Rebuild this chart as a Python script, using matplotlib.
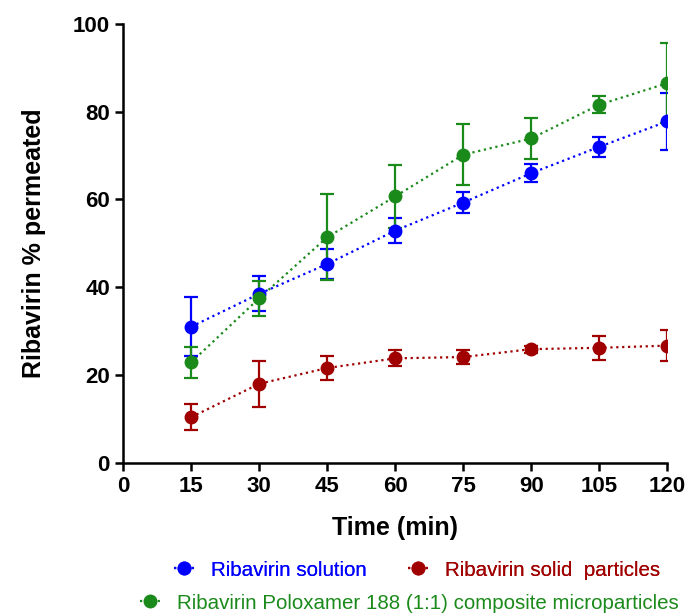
import numpy as np
import matplotlib.pyplot as plt
from matplotlib.lines import Line2D

plt.rcParams['font.family'] = ['Liberation Sans', 'DejaVu Sans']

time = [15, 30, 45, 60, 75, 90, 105, 120]

solution = [31.0, 38.5, 45.3, 52.9, 59.3, 66.0, 72.0, 77.8]
solution_err = [6.7, 4.0, 3.4, 2.9, 2.4, 2.1, 2.3, 6.5]

solid = [10.4, 18.0, 21.6, 23.8, 24.1, 25.9, 26.2, 26.7]
solid_err = [3.0, 5.3, 2.8, 1.8, 1.5, 0.8, 2.8, 3.6]

composite = [22.9, 37.5, 51.4, 60.7, 70.2, 73.9, 81.6, 86.5]
composite_err = [3.6, 4.0, 9.8, 7.2, 7.0, 4.7, 2.0, 9.1]

labels = ["Ribavirin solution", "Ribavirin solid  particles",
          "Ribavirin Poloxamer 188 (1:1) composite microparticles"]
colors = ["#0000ff", "#a00000", "#1a8a1a"]

fig = plt.figure(figsize=(6.88, 6.13), dpi=100)
ax = fig.add_axes([0.179, 0.245, 0.791, 0.716])

series = [(solution, solution_err), (solid, solid_err), (composite, composite_err)]
for (y, e), c in zip(series, colors):
    ax.errorbar(time, y, yerr=e, color=c, ecolor=c, fmt='o', ms=9,
                capsize=5, capthick=1.6, elinewidth=1.6, zorder=3)
    ax.plot(time, y, ':', color=c, lw=1.6, zorder=2)

ax.set_xlim(0, 120)
ax.set_ylim(0, 100)
ax.set_xticks(np.arange(0, 121, 15))
ax.set_yticks(np.arange(0, 101, 20))
for s in ['top', 'right']:
    ax.spines[s].set_visible(False)
for s in ['left', 'bottom']:
    ax.spines[s].set_linewidth(1.8)
ax.tick_params(direction='out', length=6, width=1.8, labelsize=16)
for t in ax.get_xticklabels() + ax.get_yticklabels():
    t.set_fontweight('bold')
ax.set_xlabel("Time (min)", fontsize=18, fontweight='bold', labelpad=14)
ax.set_ylabel("Ribavirin % permeated", fontsize=18, fontweight='bold', labelpad=19)

handles = [Line2D([], [], color=c, ls=':', marker='o', ms=9, lw=1.6) for c in colors]

leg_kw = dict(frameon=False, fontsize=14.8, handlelength=1.0, handletextpad=0.8,
              borderpad=0, borderaxespad=0, loc='center left')
leg1 = fig.legend(handles[:2], labels[:2], bbox_to_anchor=(0.253, 0.070),
                  ncol=2, columnspacing=2.0, labelcolor=colors[:2], **leg_kw)
fig.legend(handles[2:], labels[2:], bbox_to_anchor=(0.2035, 0.0163),
           labelcolor=colors[2:], **leg_kw)
fig.add_artist(leg1)

fig.savefig("out.png", dpi=100)
